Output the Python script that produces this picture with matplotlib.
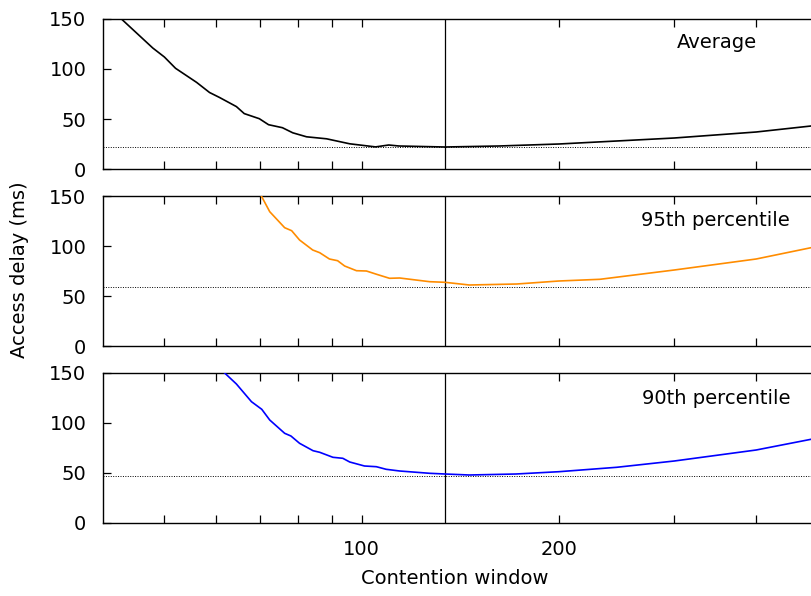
import matplotlib
matplotlib.use("Agg")
import matplotlib.pyplot as plt
from matplotlib.ticker import FixedLocator, NullFormatter, FixedFormatter

plt.rcParams["font.family"] = ["DejaVu Sans"]
plt.rcParams["font.size"] = 14

# data
avg_cw = [43, 48, 50, 52, 56, 58.6, 60.7, 64.4, 66.2, 69.8, 72.1, 75.7, 78.5,
          82.4, 88.4, 95.9, 105, 110, 114, 134, 162, 200, 245, 300, 400, 485]
avg_delay = [150, 121, 112, 100.7, 86.6, 76.5, 71.5, 62.4, 55.4, 50.3, 44.3,
             41.3, 36.2, 32.2, 30.2, 25.2, 22.1, 24, 23, 22, 23, 25, 28, 31, 37, 43]

p95_cw = [70.3, 72.4, 76.3, 78.2, 80.4, 84.2, 86.3, 89.3, 91.9, 94.2, 98.2,
          101.7, 105.4, 110.3, 114.3, 127, 134, 146, 172.5, 200, 231, 300, 400, 485]
p95_delay = [150, 134.3, 118.3, 115.3, 106, 96, 93.3, 87, 85.3, 80, 75.3,
             75, 71.7, 67.7, 68, 64.3, 63.7, 61, 62, 65, 66.7, 76, 87, 98.3]

p90_cw = [61.8, 64.4, 67.9, 70.4, 72.4, 76.3, 78, 80.4, 84.3, 86.3, 90.4,
          93.6, 95.9, 101, 105.3, 109, 114.3, 127, 134, 146, 172, 200, 245,
          300, 400, 485]
p90_delay = [150, 139, 121.3, 113.7, 103, 89.7, 87, 79.7, 72.3, 70.7, 65.7,
             64.7, 61, 57, 56.3, 53.7, 52, 49.7, 49, 48, 49, 51.3, 55.7, 62,
             73, 83.7]

best_cw = 134
ref_delay = [22, 59.5, 47]
titles = ["Average", "95th percentile", "90th percentile"]
colors = ["black", "#ff8c00", "#0000ff"]

xticks_all = [50, 60, 70, 80, 90, 100, 200, 300, 400]
xtick_labels = ["", "", "", "", "", "100", "200", "", ""]
yticks = [0, 50, 100, 150]

series = [(avg_cw, avg_delay), (p95_cw, p95_delay), (p90_cw, p90_delay)]

fig = plt.figure(figsize=(8.11, 5.96), dpi=100)
left = 103 / 811
width = 1.0 - left
tops = [19, 196, 373]
h = 150

axes = []
for i, (xs, ys) in enumerate(series):
    bottom = 1 - (tops[i] + h) / 596
    ax = fig.add_axes([left, bottom, width, h / 596])
    axes.append(ax)
    ax.plot(xs, ys, color=colors[i], lw=1.2, zorder=3)
    ax.axhline(ref_delay[i], color="black", lw=0.7, ls=(0, (1, 1.5)), zorder=2)
    ax.axvline(best_cw, color="black", lw=0.9, zorder=2)
    ax.set_xscale("log")
    ax.set_xlim(40.3, 485)
    ax.set_ylim(0, 150)
    ax.xaxis.set_major_locator(FixedLocator(xticks_all))
    ax.xaxis.set_minor_locator(FixedLocator([]))
    if i == 2:
        ax.xaxis.set_major_formatter(FixedFormatter(xtick_labels))
    else:
        ax.xaxis.set_major_formatter(NullFormatter())
    ax.xaxis.set_minor_formatter(NullFormatter())
    ax.set_yticks(yticks)
    ax.tick_params(axis="both", direction="in", length=6, width=0.9,
                   top=True, right=False, labelsize=14)
    ax.tick_params(axis="y", pad=12)
    ax.tick_params(axis="x", pad=12)
    ax.spines["right"].set_visible(False)
    for s in ["top", "bottom", "left"]:
        ax.spines[s].set_linewidth(1.0)

# panel labels
fig.text(757 / 811, 1 - 43 / 596, titles[0], ha="right", va="center", fontsize=14)
fig.text(790 / 811, 1 - 220 / 596, titles[1], ha="right", va="center", fontsize=14)
fig.text(790 / 811, 1 - 398 / 596, titles[2], ha="right", va="center", fontsize=14)

fig.text(455 / 811, 1 - 578 / 596, "Contention window", ha="center", va="center", fontsize=14)
fig.text(20 / 811, 1 - 270 / 596, "Access delay (ms)", ha="center", va="center",
         rotation=90, fontsize=14)

fig.savefig("out.png", dpi=100)
